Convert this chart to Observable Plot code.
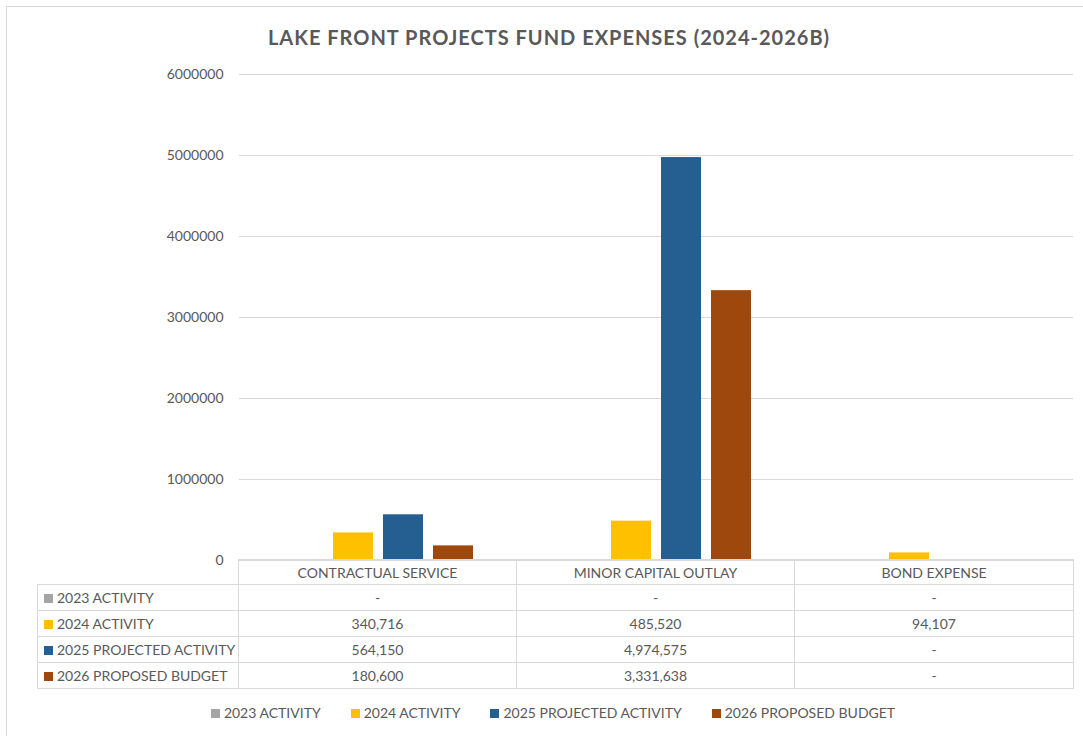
<!DOCTYPE html>
<html><head><meta charset="utf-8">
<script src="https://cdn.jsdelivr.net/npm/d3@7"></script>
<script src="https://cdn.jsdelivr.net/npm/@observablehq/plot@0.6"></script>
<style>
body{margin:0;background:#fff;font-family:Lato,"Open Sans",sans-serif;color:#595959}
#wrap{position:relative;width:1083px;height:736px;overflow:hidden;background:#fff}
#frame{position:absolute;left:6px;top:6px;width:1200px;height:800px;border:1.5px solid #d9d9d9;box-sizing:border-box}
#title{position:absolute;top:25px;left:0;width:1098px;text-align:center;font-weight:bold;font-size:20px;letter-spacing:1px;color:#595959}
#chart{position:absolute;left:0;top:0}
#tbl{position:absolute;left:37px;top:559px;border-collapse:collapse;table-layout:fixed;width:1036px;font-size:14px;color:#595959}
#tbl td{border:1.5px solid #d9d9d9;height:25px;padding:0;text-align:center;white-space:nowrap;overflow:hidden}
#tbl tr.hdr td{height:24px}
#tbl td.lab{text-align:left;padding-left:6px}
#tbl td.blank{border-top:none;border-left:none}
.sw{display:inline-block;width:9px;height:9px;margin-right:4px;vertical-align:0px}
#legend{position:absolute;top:704px;left:0;width:1106px;display:flex;justify-content:center;gap:30px;font-size:14px;color:#595959}
</style></head>
<body>
<div id="wrap">
  <div id="frame"></div>
  <div id="chart"></div>
  <div id="title">LAKE FRONT PROJECTS FUND EXPENSES (2024-2026B)</div>
  <table id="tbl"></table>
  <div id="legend"></div>
</div>
<script>
const categories = ["CONTRACTUAL SERVICE", "MINOR CAPITAL OUTLAY", "BOND EXPENSE"];
const series = ["2023 ACTIVITY", "2024 ACTIVITY", "2025 PROJECTED ACTIVITY", "2026 PROPOSED BUDGET"];
const v2023 = [0, 0, 0];
const v2024 = [340716, 485520, 94107];
const v2025 = [564150, 4974575, 0];
const v2026 = [180600, 3331638, 0];
const colors = ["#A5A5A5", "#FFC000", "#255E91", "#9E480E"];
const yTicks = [0, 1000000, 2000000, 3000000, 4000000, 5000000, 6000000];

const values = [v2023, v2024, v2025, v2026];
const data = [];
series.forEach((s, si) => categories.forEach((c, ci) => data.push({category: c, series: s, value: values[si][ci]})));

const chart = Plot.plot({
  width: 1083, height: 600,
  marginTop: 74, marginBottom: 40, marginLeft: 238, marginRight: 10,
  style: {fontFamily: 'Lato, "Open Sans", sans-serif', fontSize: "14px", color: "#595959", background: "transparent"},
  fx: {domain: categories, paddingInner: 0, paddingOuter: 0, axis: null},
  x: {domain: series, paddingInner: 0.2, paddingOuter: 0.88, axis: null},
  y: {domain: [0, 6000000], axis: null},
  color: {domain: series, range: colors},
  marks: [
    Plot.gridY(yTicks, {stroke: "#d9d9d9", strokeOpacity: 1, strokeWidth: 1.2}),
    Plot.axisY(yTicks, {tickSize: 0, tickPadding: 16, tickFormat: d3.format("d"), label: null, fontSize: 14, fill: "#595959"}),
    Plot.barY(data.filter(d => d.value > 0), {fx: "category", x: "series", y: "value", fill: "series"})
  ]
});
document.getElementById("chart").appendChild(chart);

// data table
const fmt = d3.format(",");
const tbl = d3.select("#tbl");
const cg = tbl.append("colgroup");
[201, 278, 278, 279].forEach(w => cg.append("col").style("width", w + "px"));
const hr = tbl.append("tr").attr("class", "hdr");
hr.append("td").attr("class", "blank");
categories.forEach(c => hr.append("td").text(c));
series.forEach((s, si) => {
  const tr = tbl.append("tr");
  const lab = tr.append("td").attr("class", "lab");
  lab.append("span").attr("class", "sw").style("background", colors[si]);
  lab.append("span").text(s);
  categories.forEach((c, ci) => tr.append("td").text(values[si][ci] ? fmt(values[si][ci]) : "-"));
});

// legend
const lg = d3.select("#legend");
series.forEach((s, si) => {
  const it = lg.append("div");
  it.append("span").attr("class", "sw").style("background", colors[si]);
  it.append("span").text(s);
});
</script>
</body></html>
